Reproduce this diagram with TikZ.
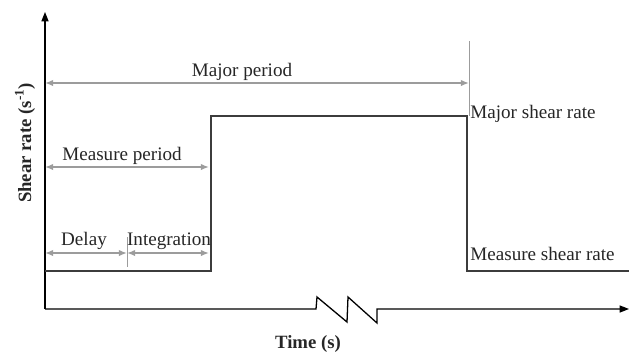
\documentclass[tikz,border=0pt]{standalone}
\usepackage{fontspec}
\setmainfont{Liberation Serif}
\usetikzlibrary{arrows.meta}
\definecolor{dimgray}{HTML}{9c9c9c}
\definecolor{stepgray}{HTML}{3c3c3c}

\begin{document}
\begin{tikzpicture}[x=0.03cm,y=-0.03cm,font=\fontsize{16.3}{19}\selectfont,
  axis/.style={black,line width=1.1pt,-{Triangle[length=8pt,width=6pt]}},
  signal/.style={stepgray,line width=0.9pt},
  dimline/.style={dimgray,line width=1.2pt,{Latex[length=7pt,width=5.5pt]}-{Latex[length=7pt,width=5.5pt]}},
  guide/.style={dimgray,line width=0.8pt},
  lbl/.style={inner sep=1pt,text=black!85}]
  \useasboundingbox (0,0) rectangle (629,355);
  % axes
  \coordinate (origin) at (45,309);
  \coordinate (ytop) at (45,12);
  \coordinate (xend) at (629,309);
  \coordinate (z1) at (316,309);
  \coordinate (z2) at (317,297);
  \coordinate (z3) at (347,322);
  \coordinate (z4) at (348,297);
  \coordinate (z5) at (377,323);
  \coordinate (z6) at (377,309);
  \draw[axis] (origin) -- (ytop);
  \draw[axis] (origin) -- (z1) -- (z2) -- (z3) -- (z4) -- (z5) -- (z6) -- (xend);
  % shear signal
  \coordinate (s0) at (45,271);
  \coordinate (s1) at (211,271);
  \coordinate (s2) at (211,116);
  \coordinate (s3) at (467,116);
  \coordinate (s4) at (467,271);
  \coordinate (s5) at (629,271);
  \draw[signal] (s0) -- (s1) -- (s2) -- (s3) -- (s4) -- (s5);
  % periods
  \coordinate (majL) at (45,83);
  \coordinate (majR) at (469,83);
  \coordinate (gtop) at (469,41);
  \coordinate (gbot) at (469,116);
  \draw[guide] (gtop) -- (gbot);
  \draw[dimline] (majL) -- (majR);
  \coordinate (meaL) at (45,167);
  \coordinate (meaR) at (209,167);
  \draw[dimline] (meaL) -- (meaR);
  \coordinate (delL) at (45,253);
  \coordinate (delM) at (127,253);
  \coordinate (intR) at (209,253);
  \coordinate (tickT) at (127,237);
  \coordinate (tickB) at (127,267);
  \draw[guide] (tickT) -- (tickB);
  \draw[dimline] (delL) -- (delM);
  \draw[dimline] (delM) -- (intR);
  % labels
  \node[lbl] (major) at (242,72) {Major period};
  \node[lbl] (measure) at (122,156) {Measure period};
  \node[lbl] (delay) at (84,241) {Delay};
  \node[lbl] (integ) at (169,241) {Integration};
  \node[lbl,anchor=west] (majrate) at (469,114) {Major shear rate};
  \node[lbl,anchor=west] (mearate) at (469,254) {Measure shear rate};
  \node[lbl,rotate=90,font=\fontsize{16}{19}\selectfont\bfseries] (ylab) at (25,143) {Shear rate (s\textsuperscript{-1})};
  \node[lbl,font=\fontsize{16}{19}\selectfont\bfseries] (xlab) at (308,344) {Time (s)};
\end{tikzpicture}
\end{document}
